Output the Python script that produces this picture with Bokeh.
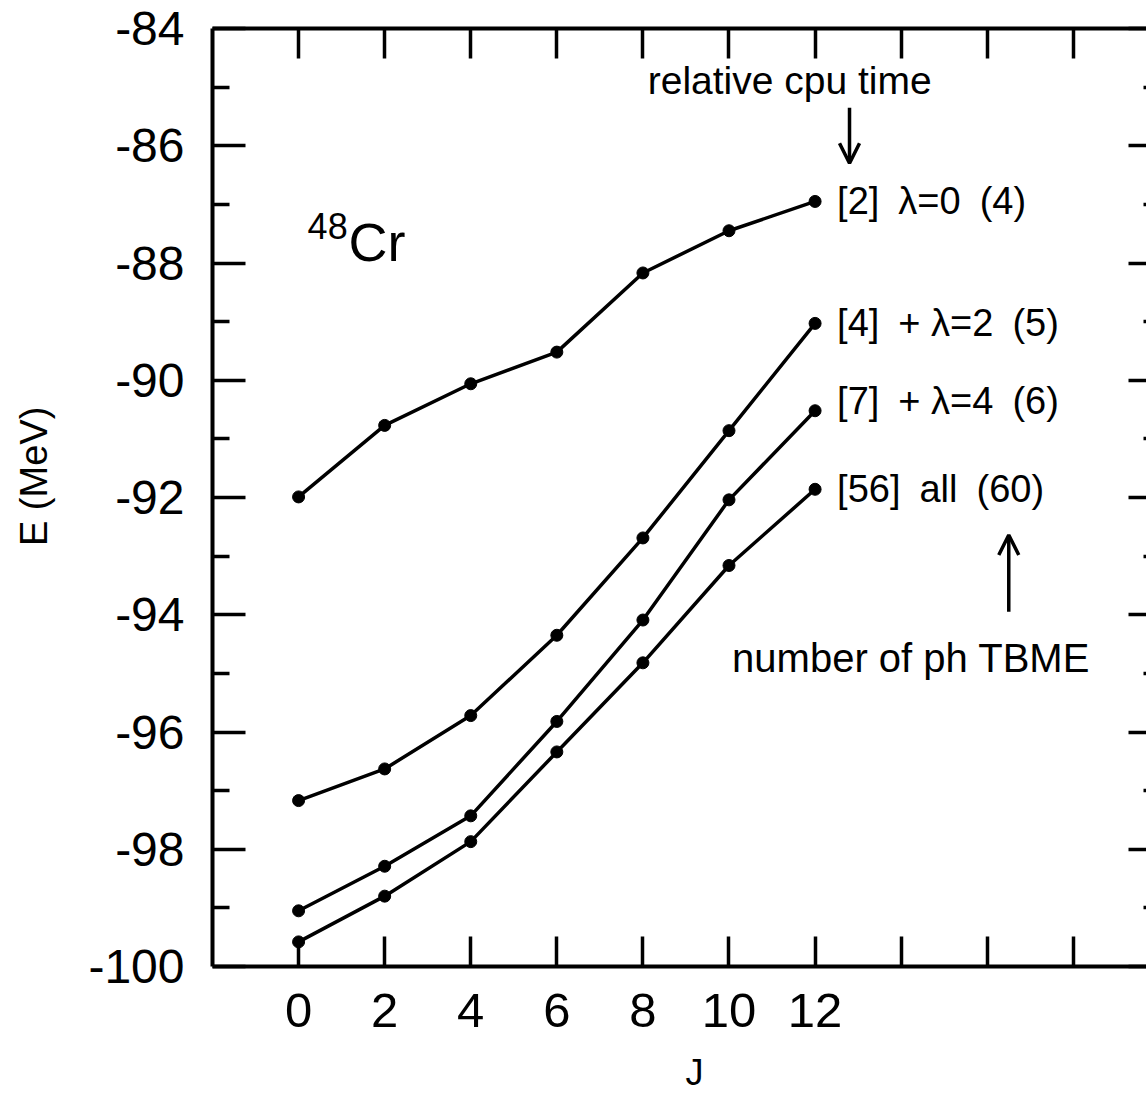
from bokeh.plotting import figure
from bokeh.models import FixedTicker, LinearAxis, Arrow, OpenHead, ColumnDataSource, Range1d
from bokeh.core.properties import value
from bokeh.embed import file_html
from bokeh.resources import INLINE

# ---- data ----
J = [0, 2, 4, 6, 8, 10, 12]
E_lambda0 = [-91.99, -90.77, -90.06, -89.52, -88.17, -87.45, -86.95]
E_lambda2 = [-97.17, -96.63, -95.72, -94.35, -92.69, -90.86, -89.03]
E_lambda4 = [-99.05, -98.29, -97.43, -95.82, -94.09, -92.04, -90.52]
E_all = [-99.58, -98.80, -97.87, -96.34, -94.82, -93.16, -91.86]
series = [E_lambda0, E_lambda2, E_lambda4, E_all]
SP = "\u2002"
series_labels = ["[2]" + SP + "λ=0" + SP + "(4)",
                 "[4]" + SP + "+ λ=2" + SP + "(5)",
                 "[7]" + SP + "+ λ=4" + SP + "(6)",
                 "[56]" + SP + "all" + SP + "(60)"]

x_ticks = [0, 2, 4, 6, 8, 10, 12, 14, 16, 18]
x_tick_labels = ["0", "2", "4", "6", "8", "10", "12", "", "", ""]
y_ticks = [-100, -98, -96, -94, -92, -90, -88, -86, -84]
y_tick_labels = ["-100", "-98", "-96", "-94", "-92", "-90", "-88", "-86", "-84"]
y_minor = [-99, -97, -95, -93, -91, -89, -87, -85]

FONT = "Liberation Sans"
NB = "\u00a0"

p = figure(width=1146, height=1095, output_backend="svg", toolbar_location=None,
           x_range=Range1d(-2, 19.7), y_range=Range1d(-100, -84),
           min_border_left=212, min_border_right=0, min_border_top=28, min_border_bottom=128)
p.grid.visible = False
p.outline_line_color = None
p.background_fill_color = "white"
p.border_fill_color = "white"

def style_axis(ax, tick_in, minor_in, line=True):
    ax.axis_line_width = 4
    ax.axis_line_color = "black" if line else None
    ax.major_tick_in = tick_in
    ax.major_tick_out = 0
    ax.minor_tick_in = minor_in
    ax.minor_tick_out = 0
    ax.major_tick_line_width = 3.5
    ax.minor_tick_line_width = 3.5
    ax.major_tick_line_color = "black"
    ax.minor_tick_line_color = "black"

# bottom axis
xa = p.xaxis[0]
xa.ticker = FixedTicker(ticks=x_ticks, minor_ticks=[])
xa.major_label_overrides = {t: l for t, l in zip(x_ticks, x_tick_labels)}
style_axis(xa, 30, 0)
xa.major_label_text_font = FONT
xa.major_label_text_font_size = "49px"
xa.major_label_text_color = "black"
xa.major_label_standoff = 27
xa.axis_label = NB * 3 + "J"
xa.axis_label_text_font = FONT
xa.axis_label_text_font_size = "36px"
xa.axis_label_text_font_style = "normal"
xa.axis_label_text_color = "black"
xa.axis_label_standoff = 22

# left axis
ya = p.yaxis[0]
ya.ticker = FixedTicker(ticks=y_ticks, minor_ticks=y_minor)
ya.major_label_overrides = {t: l for t, l in zip(y_ticks, y_tick_labels)}
style_axis(ya, 33, 17)
ya.major_label_text_font = FONT
ya.major_label_text_font_size = "48px"
ya.major_label_text_color = "black"
ya.major_label_standoff = 28
ya.axis_label = NB * 4 + "E (MeV)"
ya.axis_label_text_font = FONT
ya.axis_label_text_font_size = "38px"
ya.axis_label_text_font_style = "normal"
ya.axis_label_text_color = "black"
ya.axis_label_standoff = 30

# top axis
ta = LinearAxis(ticker=FixedTicker(ticks=x_ticks, minor_ticks=[]),
                major_label_overrides={t: "" for t in x_ticks})
style_axis(ta, 30, 0)
ta.major_label_text_font_size = "1px"
ta.major_label_standoff = 0
p.add_layout(ta, "above")

# right axis (frame edge falls just outside the picture in the reference)
ra = LinearAxis(ticker=FixedTicker(ticks=y_ticks, minor_ticks=y_minor),
                major_label_overrides={t: "" for t in y_ticks})
style_axis(ra, 18, 3, line=False)
ra.major_label_text_font_size = "1px"
ra.major_label_standoff = 0
p.add_layout(ra, "right")

# series
for s in series:
    p.line(J, s, line_color="black", line_width=3.5)
    p.scatter(J, s, size=12, color="black")

# series labels at the end points
lab_src = ColumnDataSource(dict(
    x=[J[-1]] * len(series),
    y=[s[-1] for s in series],
    text=series_labels,
    yoff=[0, 0, -10, 0],
))
p.text(x="x", y="y", text="text", source=lab_src, x_offset=22, y_offset="yoff",
       text_font=value(FONT), text_font_size="38px", text_align="left",
       text_baseline="middle", text_color="black")

# annotations
p.text(x=[11.41], y=[-84.88], text=["relative cpu time"], text_font=value(FONT),
       text_font_size="39px", text_align="center", text_baseline="middle", text_color="black")
p.text(x=[14.23], y=[-94.73], text=["number of ph TBME"], text_font=value(FONT),
       text_font_size="40px", text_align="center", text_baseline="middle", text_color="black")
p.add_layout(Arrow(end=OpenHead(size=20, line_width=3.5, line_color="black"),
                   x_start=12.80, y_start=-85.35, x_end=12.80, y_end=-86.30,
                   line_width=3.5, line_color="black"))
p.add_layout(Arrow(end=OpenHead(size=20, line_width=3.5, line_color="black"),
                   x_start=16.50, y_start=-93.95, x_end=16.50, y_end=-92.64,
                   line_width=3.5, line_color="black"))

# nucleus label 48Cr
p.text(x=[1.16], y=[-87.64], text=["Cr"], text_font=value(FONT), text_font_size="54px",
       text_align="left", text_baseline="middle", text_color="black")
p.text(x=[1.14], y=[-87.37], text=["48"], text_font=value(FONT), text_font_size="36px",
       text_align="right", text_baseline="middle", text_color="black")

open("out.html", "w").write(file_html(p, INLINE))
